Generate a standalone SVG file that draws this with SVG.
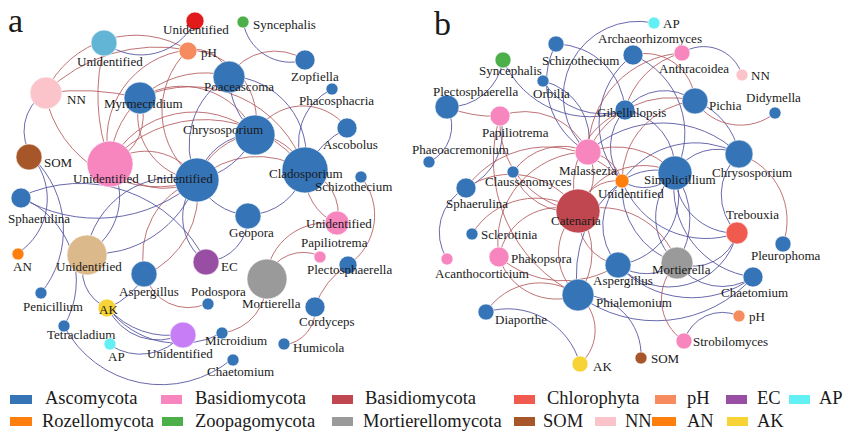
<svg xmlns="http://www.w3.org/2000/svg" width="850" height="434" viewBox="0 0 850 434">
<style>
.r{fill:none;stroke:#b45a5e;stroke-width:1;stroke-opacity:.85}
.b{fill:none;stroke:#4f4f9c;stroke-width:1;stroke-opacity:.85}
text{font-family:"Liberation Serif","Times New Roman",serif;fill:#1a1a1a}
.t{font-size:13px}
.lg{font-size:18.5px}
.big{font-size:34px}
circle{stroke:#fff;stroke-width:.6}
.asc{fill:#3574b6}.bas{fill:#f786bf}.bas2{fill:#c0474f}.chl{fill:#f05a4f}.ph{fill:#f58b5e}
.ec{fill:#984ea3}.ap{fill:#62f0f5}.roz{fill:#ff7f0e}.zoo{fill:#4daf4a}.mor{fill:#9a9a9a}
.som{fill:#a65628}.nn{fill:#fbc4ca}.an{fill:#ff7f0e}.ak{fill:#f7d336}
.red{fill:#e31a1c}.lb{fill:#62b5d5}.tan{fill:#dcb98a}.orc{fill:#c77df5}
</style>
<rect width="850" height="434" fill="#fff"/>
<text class="big" x="8" y="32">a</text>
<text class="big" x="434" y="35">b</text>
<g id="connectors">
<!-- panel a red -->
<path class="r" d="M45 93 A100 100 0 0 1 188 50"/>
<path class="r" d="M45 93 A160 160 0 0 1 188 50"/>
<path class="r" d="M105 43 A200 200 0 0 0 110 163"/>
<path class="r" d="M45 93 A250 250 0 0 1 140 98"/>
<path class="r" d="M45 93 A115 115 0 0 0 197 180"/>
<path class="r" d="M188 50 A90 90 0 0 0 110 163"/>
<path class="r" d="M188 50 A85 85 0 0 0 197 180"/>
<path class="r" d="M188 50 A70 70 0 0 1 255 134"/>
<path class="r" d="M188 50 A35 35 0 0 1 229 76"/>
<path class="r" d="M140 98 A80 80 0 0 1 255 134"/>
<path class="r" d="M140 98 A65 65 0 0 0 197 180"/>
<path class="r" d="M140 98 A120 120 0 0 1 305 170"/>
<path class="r" d="M140 98 A50 50 0 0 1 110 163"/>
<path class="r" d="M110 163 A60 60 0 0 1 197 180"/>
<path class="r" d="M110 163 A70 70 0 0 0 197 180"/>
<path class="r" d="M110 163 A95 95 0 0 1 255 134"/>
<path class="r" d="M110 163 A125 125 0 0 1 305 170"/>
<path class="r" d="M110 163 A95 95 0 0 1 229 76"/>
<path class="r" d="M229 76 A55 55 0 0 1 305 60"/>
<path class="r" d="M266 278 A50 50 0 0 1 222 333"/>
<path class="r" d="M266 278 A40 40 0 0 1 320 256"/>
<path class="r" d="M266 278 A60 60 0 0 1 337 224"/>
<path class="r" d="M348 265 A80 80 0 0 0 315 307"/>
<path class="r" d="M315 307 A35 35 0 0 1 283 345"/>
<path class="r" d="M361 177 A60 60 0 0 1 348 265"/>
<path class="r" d="M305 170 A45 45 0 0 1 337 224"/>
<path class="r" d="M305 170 A55 55 0 0 0 337 224"/>
<path class="r" d="M255 134 A55 55 0 0 1 347 128"/>
<path class="r" d="M255 134 A60 60 0 0 1 305 170"/>
<path class="r" d="M197 180 A80 80 0 0 0 145 275"/>
<path class="r" d="M197 180 A90 90 0 0 1 145 275"/>
<path class="r" d="M145 275 A45 45 0 0 0 206 304"/>
<path class="r" d="M197 180 A90 90 0 0 1 305 170"/>
<path class="r" d="M197 180 A70 70 0 0 1 255 134"/>
<!-- panel a blue -->
<path class="b" d="M243 21 A48 48 0 0 0 305 60"/>
<path class="b" d="M105 43 A60 60 0 0 0 195 21"/>
<path class="b" d="M45 93 A45 45 0 0 0 33 158"/>
<path class="b" d="M33 158 A65 65 0 0 1 18 253"/>
<path class="b" d="M20 197 A90 90 0 0 1 64 326"/>
<path class="b" d="M20 197 A140 140 0 0 1 206 262"/>
<path class="b" d="M86 254 A90 90 0 0 1 197 180"/>
<path class="b" d="M86 254 A110 110 0 0 0 197 180"/>
<path class="b" d="M86 254 A65 65 0 0 0 110 163"/>
<path class="b" d="M86 254 A40 40 0 0 0 108 308"/>
<path class="b" d="M108 308 A80 80 0 0 0 145 275"/>
<path class="b" d="M108 308 A55 55 0 0 0 183 334"/>
<path class="b" d="M108 308 A80 80 0 0 0 183 334"/>
<path class="b" d="M108 308 A90 90 0 0 0 222 333"/>
<path class="b" d="M110 345 A55 55 0 0 0 183 334"/>
<path class="b" d="M64 326 A110 110 0 0 0 232 359"/>
<path class="b" d="M33 158 A100 100 0 0 1 41 293"/>
<path class="b" d="M305 170 A100 100 0 0 1 347 128"/>
<path class="b" d="M305 170 A60 60 0 0 1 332 89"/>
<path class="b" d="M305 170 A80 80 0 0 0 229 76"/>
<path class="b" d="M255 134 A80 80 0 0 1 229 76"/>
<path class="b" d="M255 134 A60 60 0 0 0 197 180"/>
<path class="b" d="M255 134 A80 80 0 0 1 197 180"/>
<path class="b" d="M248 215 A60 60 0 0 1 197 180"/>
<path class="b" d="M248 215 A45 45 0 0 1 206 262"/>
<path class="b" d="M248 215 A60 60 0 0 0 305 170"/>
<path class="b" d="M197 180 A55 55 0 0 0 206 262"/>
<path class="b" d="M229 76 A80 80 0 0 0 197 180"/>
<path class="b" d="M20 197 A150 150 0 0 0 197 180"/>
<!-- panel b blue -->
<path class="b" d="M654 23 A75 75 0 0 0 588 152"/>
<path class="b" d="M556 44 A70 70 0 0 1 625 110"/>
<path class="b" d="M633 55 A85 85 0 0 0 622 181"/>
<path class="b" d="M633 55 A85 85 0 0 1 675 173"/>
<path class="b" d="M682 53 A40 40 0 0 1 742 75"/>
<path class="b" d="M695 101 A50 50 0 0 0 625 110"/>
<path class="b" d="M695 101 A70 70 0 0 1 739 154"/>
<path class="b" d="M625 110 A70 70 0 0 1 543 81"/>
<path class="b" d="M503 60 A95 95 0 0 0 625 110"/>
<path class="b" d="M503 60 A55 55 0 0 1 447 107"/>
<path class="b" d="M447 107 A40 40 0 0 1 429 162"/>
<path class="b" d="M500 116 A60 60 0 0 1 466 188"/>
<path class="b" d="M466 188 A50 50 0 0 0 447 259"/>
<path class="b" d="M486 312 A75 75 0 0 1 580 364"/>
<path class="b" d="M578 295 A130 130 0 0 0 753 277"/>
<path class="b" d="M578 295 A60 60 0 0 1 641 358"/>
<path class="b" d="M684 341 A40 40 0 0 1 739 316"/>
<path class="b" d="M677 263 A45 45 0 0 0 737 233"/>
<path class="b" d="M677 263 A55 55 0 0 0 753 277"/>
<path class="b" d="M677 263 A60 60 0 0 1 675 173"/>
<path class="b" d="M677 263 A80 80 0 0 0 675 173"/>
<path class="b" d="M677 263 A80 80 0 0 1 622 181"/>
<path class="b" d="M677 263 A50 50 0 0 1 618 265"/>
<path class="b" d="M618 265 A70 70 0 0 0 675 173"/>
<path class="b" d="M618 265 A60 60 0 0 1 622 181"/>
<path class="b" d="M675 173 A60 60 0 0 0 737 233"/>
<path class="b" d="M675 173 A50 50 0 0 1 739 154"/>
<path class="b" d="M675 173 A90 90 0 0 0 753 277"/>
<path class="b" d="M675 173 A40 40 0 0 1 622 181"/>
<path class="b" d="M675 173 A60 60 0 0 0 622 181"/>
<path class="b" d="M739 154 A55 55 0 0 0 737 233"/>
<path class="b" d="M739 154 A90 90 0 0 0 622 181"/>
<path class="b" d="M739 154 A110 110 0 0 0 588 152"/>
<path class="b" d="M622 181 A90 90 0 0 0 737 233"/>
<path class="b" d="M625 110 A60 60 0 0 1 675 173"/>
<path class="b" d="M625 110 A55 55 0 0 0 622 181"/>
<path class="b" d="M737 233 A70 70 0 0 1 618 265"/>
<path class="b" d="M753 277 A100 100 0 0 1 618 265"/>
<path class="b" d="M556 44 A80 80 0 0 0 588 152"/>
<path class="b" d="M543 81 A60 60 0 0 1 588 152"/>
<path class="b" d="M622 181 A120 120 0 0 0 578 295"/>
<!-- panel b red -->
<path class="r" d="M682 53 A80 80 0 0 0 625 110"/>
<path class="r" d="M682 53 A100 100 0 0 0 588 152"/>
<path class="r" d="M633 55 A50 50 0 0 1 695 101"/>
<path class="r" d="M695 101 A55 55 0 0 0 775 113"/>
<path class="r" d="M695 101 A90 90 0 0 0 588 152"/>
<path class="r" d="M695 101 A80 80 0 0 0 622 181"/>
<path class="r" d="M447 107 A120 120 0 0 0 500 116"/>
<path class="r" d="M500 116 A70 70 0 0 1 588 152"/>
<path class="r" d="M500 116 A90 90 0 0 0 578 211"/>
<path class="r" d="M500 116 A150 150 0 0 0 578 295"/>
<path class="r" d="M588 152 A40 40 0 0 1 622 181"/>
<path class="r" d="M588 152 A80 80 0 0 1 675 173"/>
<path class="r" d="M513 172 A60 60 0 0 1 588 152"/>
<path class="r" d="M513 172 A60 60 0 0 0 578 211"/>
<path class="r" d="M466 188 A80 80 0 0 1 578 211"/>
<path class="r" d="M472 234 A75 75 0 0 1 578 211"/>
<path class="r" d="M499 257 A60 60 0 0 1 578 211"/>
<path class="r" d="M499 257 A60 60 0 0 0 578 295"/>
<path class="r" d="M578 211 A55 55 0 0 0 578 295"/>
<path class="r" d="M578 211 A70 70 0 0 1 578 295"/>
<path class="r" d="M578 211 A50 50 0 0 0 618 265"/>
<path class="r" d="M578 211 A80 80 0 0 1 677 263"/>
<path class="r" d="M578 211 A40 40 0 0 1 622 181"/>
<path class="r" d="M578 211 A70 70 0 0 1 675 173"/>
<path class="r" d="M578 211 A50 50 0 0 0 588 152"/>
<path class="r" d="M578 211 A80 80 0 0 1 625 110"/>
<path class="r" d="M578 295 A65 65 0 0 0 486 312"/>
<path class="r" d="M578 295 A45 45 0 0 1 580 364"/>
<path class="r" d="M677 263 A50 50 0 0 0 684 341"/>
<path class="r" d="M739 154 A70 70 0 0 1 783 244"/>
<path class="r" d="M499 257 A90 90 0 0 1 588 152"/>
<path class="r" d="M466 188 A100 100 0 0 1 622 181"/>
<path class="r" d="M499 257 A100 100 0 0 0 618 265"/>
</g>
<!-- panel a nodes -->
<g id="a-unid-red"><circle class="red" cx="195" cy="21" r="9"/><text class="t" x="163" y="34">Unidentified</text></g>
<g id="a-ph"><circle class="ph" cx="188" cy="51" r="9"/><text class="t" x="201" y="57">pH</text></g>
<g id="a-syncephalis"><circle class="zoo" cx="243" cy="22" r="6"/><text class="t" x="253" y="29">Syncephalis</text></g>
<g id="a-unid-lb"><circle class="lb" cx="104" cy="43" r="13"/><text class="t" x="77" y="66">Unidentified</text></g>
<g id="a-nn"><circle class="nn" cx="46" cy="93" r="16"/><text class="t" x="67" y="104">NN</text></g>
<g id="a-myrmecridium"><circle class="asc" cx="140" cy="98" r="16"/><text class="t" x="104" y="108">Myrmecridium</text></g>
<g id="a-som"><circle class="som" cx="29" cy="157" r="13"/><text class="t" x="44" y="167">SOM</text></g>
<g id="a-unid-pink"><circle class="bas" cx="110" cy="164" r="23"/><text class="t" x="73" y="183">Unidentified</text></g>
<g id="a-unid-blue"><circle class="asc" cx="197" cy="180" r="22"/><text class="t" x="147" y="183">Unidentified</text></g>
<g id="a-poaceascoma"><circle class="asc" cx="229" cy="77" r="16"/><text class="t" x="204" y="91">Poaceascoma</text></g>
<g id="a-zopfiella"><circle class="asc" cx="305" cy="60" r="10"/><text class="t" x="291" y="81">Zopfiella</text></g>
<g id="a-phacosphacria"><circle class="asc" cx="332" cy="89" r="6"/><text class="t" x="299" y="105">Phacosphacria</text></g>
<g id="a-chrysosporium"><circle class="asc" cx="255" cy="135" r="20"/><text class="t" x="183" y="134">Chrysosporium</text></g>
<g id="a-ascobolus"><circle class="asc" cx="347" cy="128" r="10"/><text class="t" x="323" y="149">Ascobolus</text></g>
<g id="a-cladosporium"><circle class="asc" cx="305" cy="170" r="23"/><text class="t" x="269" y="178">Cladosporium</text></g>
<g id="a-schizothecium"><circle class="asc" cx="361" cy="177" r="6"/><text class="t" x="315" y="191">Schizothecium</text></g>
<g id="a-sphaerulina"><circle class="asc" cx="21" cy="198" r="10"/><text class="t" x="8" y="223">Sphaerulina</text></g>
<g id="a-unid-tan"><circle class="tan" cx="87" cy="255" r="20"/><text class="t" x="56" y="271">Unidentified</text></g>
<g id="a-an"><circle class="an" cx="18" cy="254" r="6"/><text class="t" x="13" y="271">AN</text></g>
<g id="a-aspergillus"><circle class="asc" cx="144" cy="274" r="13"/><text class="t" x="119" y="296">Aspergillus</text></g>
<g id="a-ec"><circle class="ec" cx="206" cy="262" r="13"/><text class="t" x="221" y="271">EC</text></g>
<g id="a-geopora"><circle class="asc" cx="248" cy="216" r="13"/><text class="t" x="229" y="237">Geopora</text></g>
<g id="a-unid-pink2"><circle class="bas" cx="337" cy="223" r="12"/><text class="t" x="306" y="228">Unidentified</text></g>
<g id="a-papiliotrema"><circle class="bas" cx="320" cy="257" r="6"/><text class="t" x="301" y="247">Papiliotrema</text></g>
<g id="a-plectosphaerella"><circle class="asc" cx="348" cy="265" r="9"/><text class="t" x="307" y="274">Plectosphaerella</text></g>
<g id="a-mortierella"><circle class="mor" cx="267" cy="279" r="20"/><text class="t" x="242" y="308">Mortierella</text></g>
<g id="a-podospora"><circle class="asc" cx="208" cy="304" r="6"/><text class="t" x="191" y="296">Podospora</text></g>
<g id="a-penicillium"><circle class="asc" cx="41" cy="293" r="6"/><text class="t" x="23" y="311">Penicillium</text></g>
<g id="a-ak"><circle class="ak" cx="107" cy="308" r="9"/><text class="t" x="99" y="314">AK</text></g>
<g id="a-cordyceps"><circle class="asc" cx="315" cy="307" r="10"/><text class="t" x="299" y="326">Cordyceps</text></g>
<g id="a-tetracladium"><circle class="asc" cx="64" cy="326" r="6"/><text class="t" x="47" y="339">Tetracladium</text></g>
<g id="a-unid-purple"><circle class="orc" cx="183" cy="335" r="13"/><text class="t" x="147" y="358">Unidentified</text></g>
<g id="a-microidium"><circle class="asc" cx="222" cy="333" r="6"/><text class="t" x="205" y="345">Microidium</text></g>
<g id="a-ap"><circle class="ap" cx="110" cy="344" r="6"/><text class="t" x="108" y="361">AP</text></g>
<g id="a-humicola"><circle class="asc" cx="284" cy="344" r="6"/><text class="t" x="293" y="352">Humicola</text></g>
<g id="a-chaetomium"><circle class="asc" cx="233" cy="360" r="6"/><text class="t" x="207" y="376">Chaetomium</text></g>
<!-- panel b nodes -->
<g id="b-ap"><circle class="ap" cx="654" cy="23" r="6"/><text class="t" x="663" y="28">AP</text></g>
<g id="b-archaeorhizomyces"><circle class="asc" cx="633" cy="55" r="10"/><text class="t" x="598" y="43">Archaeorhizomyces</text></g>
<g id="b-schizothecium"><circle class="asc" cx="556" cy="44" r="8"/><text class="t" x="542" y="65">Schizothecium</text></g>
<g id="b-anthracoidea"><circle class="bas" cx="682" cy="53" r="8"/><text class="t" x="659" y="73">Anthracoidea</text></g>
<g id="b-nn"><circle class="nn" cx="742" cy="75" r="6"/><text class="t" x="751" y="80">NN</text></g>
<g id="b-syncephalis"><circle class="zoo" cx="503" cy="60" r="8"/><text class="t" x="479" y="75">Syncephalis</text></g>
<g id="b-orbilia"><circle class="asc" cx="543" cy="81" r="6"/><text class="t" x="533" y="98">Orbilia</text></g>
<g id="b-plectosphaerella"><circle class="asc" cx="447" cy="107" r="12"/><text class="t" x="433" y="96">Plectosphaerella</text></g>
<g id="b-papiliotrema"><circle class="bas" cx="500" cy="116" r="10"/><text class="t" x="482" y="137">Papiliotrema</text></g>
<g id="b-gibellulopsis"><circle class="asc" cx="625" cy="110" r="10"/><text class="t" x="597" y="117">Gibellulopsis</text></g>
<g id="b-pichia"><circle class="asc" cx="695" cy="101" r="13"/><text class="t" x="709" y="110">Pichia</text></g>
<g id="b-didymella"><circle class="asc" cx="775" cy="113" r="6"/><text class="t" x="746" y="102">Didymella</text></g>
<g id="b-phaeoacremonium"><circle class="asc" cx="429" cy="162" r="6"/><text class="t" x="412" y="154">Phaeoacremonium</text></g>
<g id="b-malassezia"><circle class="bas" cx="588" cy="152" r="13"/><text class="t" x="559" y="175">Malassezia</text></g>
<g id="b-claussenomyces"><circle class="asc" cx="513" cy="172" r="6"/><text class="t" x="485" y="186">Claussenomyces</text></g>
<g id="b-unid-orange"><circle class="roz" cx="622" cy="181" r="7"/><text class="t" x="598" y="198">Unidentified</text></g>
<g id="b-simplicillium"><circle class="asc" cx="675" cy="173" r="17"/><text class="t" x="644" y="184">Simplicillium</text></g>
<g id="b-chrysosporium"><circle class="asc" cx="739" cy="154" r="14"/><text class="t" x="712" y="177">Chrysosporium</text></g>
<g id="b-sphaerulina"><circle class="asc" cx="466" cy="188" r="10"/><text class="t" x="446" y="208">Sphaerulina</text></g>
<g id="b-catenaria"><circle class="bas2" cx="578" cy="211" r="22"/><text class="t" x="551" y="225">Catenaria</text></g>
<g id="b-trebouxia"><circle class="chl" cx="737" cy="233" r="11"/><text class="t" x="726" y="219">Trebouxia</text></g>
<g id="b-sclerotinia"><circle class="asc" cx="472" cy="234" r="6"/><text class="t" x="481" y="239">Sclerotinia</text></g>
<g id="b-pleurophoma"><circle class="asc" cx="783" cy="244" r="8"/><text class="t" x="751" y="260">Pleurophoma</text></g>
<g id="b-acanthocorticium"><circle class="bas" cx="447" cy="259" r="6"/><text class="t" x="435" y="278">Acanthocorticium</text></g>
<g id="b-phakopsora"><circle class="bas" cx="499" cy="257" r="10"/><text class="t" x="511" y="263">Phakopsora</text></g>
<g id="b-aspergillus"><circle class="asc" cx="618" cy="265" r="13"/><text class="t" x="593" y="285">Aspergillus</text></g>
<g id="b-mortierella"><circle class="mor" cx="677" cy="263" r="16"/><text class="t" x="652" y="274">Mortierella</text></g>
<g id="b-chaetomium"><circle class="asc" cx="753" cy="277" r="10"/><text class="t" x="721" y="297">Chaetomium</text></g>
<g id="b-phialemonium"><circle class="asc" cx="578" cy="295" r="16"/><text class="t" x="596" y="307">Phialemonium</text></g>
<g id="b-diaporthe"><circle class="asc" cx="486" cy="312" r="8"/><text class="t" x="495" y="324">Diaporthe</text></g>
<g id="b-ph"><circle class="ph" cx="739" cy="316" r="6"/><text class="t" x="749" y="321">pH</text></g>
<g id="b-strobilomyces"><circle class="bas" cx="684" cy="341" r="8"/><text class="t" x="693" y="346">Strobilomyces</text></g>
<g id="b-ak"><circle class="ak" cx="580" cy="364" r="8"/><text class="t" x="593" y="371">AK</text></g>
<g id="b-som"><circle class="som" cx="641" cy="358" r="6"/><text class="t" x="651" y="363">SOM</text></g>
<!-- legend -->
<g id="legend">
<rect class="asc" x="10" y="395" width="22" height="9"/><text class="lg" x="45" y="404">Ascomycota</text>
<rect class="bas" x="161" y="395" width="21" height="9"/><text class="lg" x="195" y="404">Basidiomycota</text>
<rect class="bas2" x="332" y="395" width="21" height="9"/><text class="lg" x="365" y="404">Basidiomycota</text>
<rect class="chl" x="514" y="395" width="21" height="9"/><text class="lg" x="547" y="404">Chlorophyta</text>
<rect class="ph" x="655" y="395" width="21" height="9"/><text class="lg" x="687" y="404">pH</text>
<rect class="ec" x="726" y="395" width="21" height="9"/><text class="lg" x="757" y="404">EC</text>
<rect class="ap" x="789" y="395" width="21" height="9"/><text class="lg" x="819" y="404">AP</text>
<rect class="roz" x="10" y="417" width="22" height="9"/><text class="lg" x="42" y="427">Rozellomycota</text>
<rect class="zoo" x="162" y="417" width="21" height="9"/><text class="lg" x="195" y="427">Zoopagomycota</text>
<rect class="mor" x="332" y="417" width="21" height="9"/><text class="lg" x="363" y="427">Mortierellomycota</text>
<rect class="som" x="514" y="417" width="21" height="9"/><text class="lg" x="543" y="427">SOM</text>
<rect class="nn" x="595" y="417" width="21" height="9"/><text class="lg" x="625" y="427">NN</text>
<rect class="an" x="652" y="417" width="24" height="9"/><text class="lg" x="687" y="427">AN</text>
<rect class="ak" x="727" y="417" width="21" height="9"/><text class="lg" x="757" y="427">AK</text>
</g>
</svg>
